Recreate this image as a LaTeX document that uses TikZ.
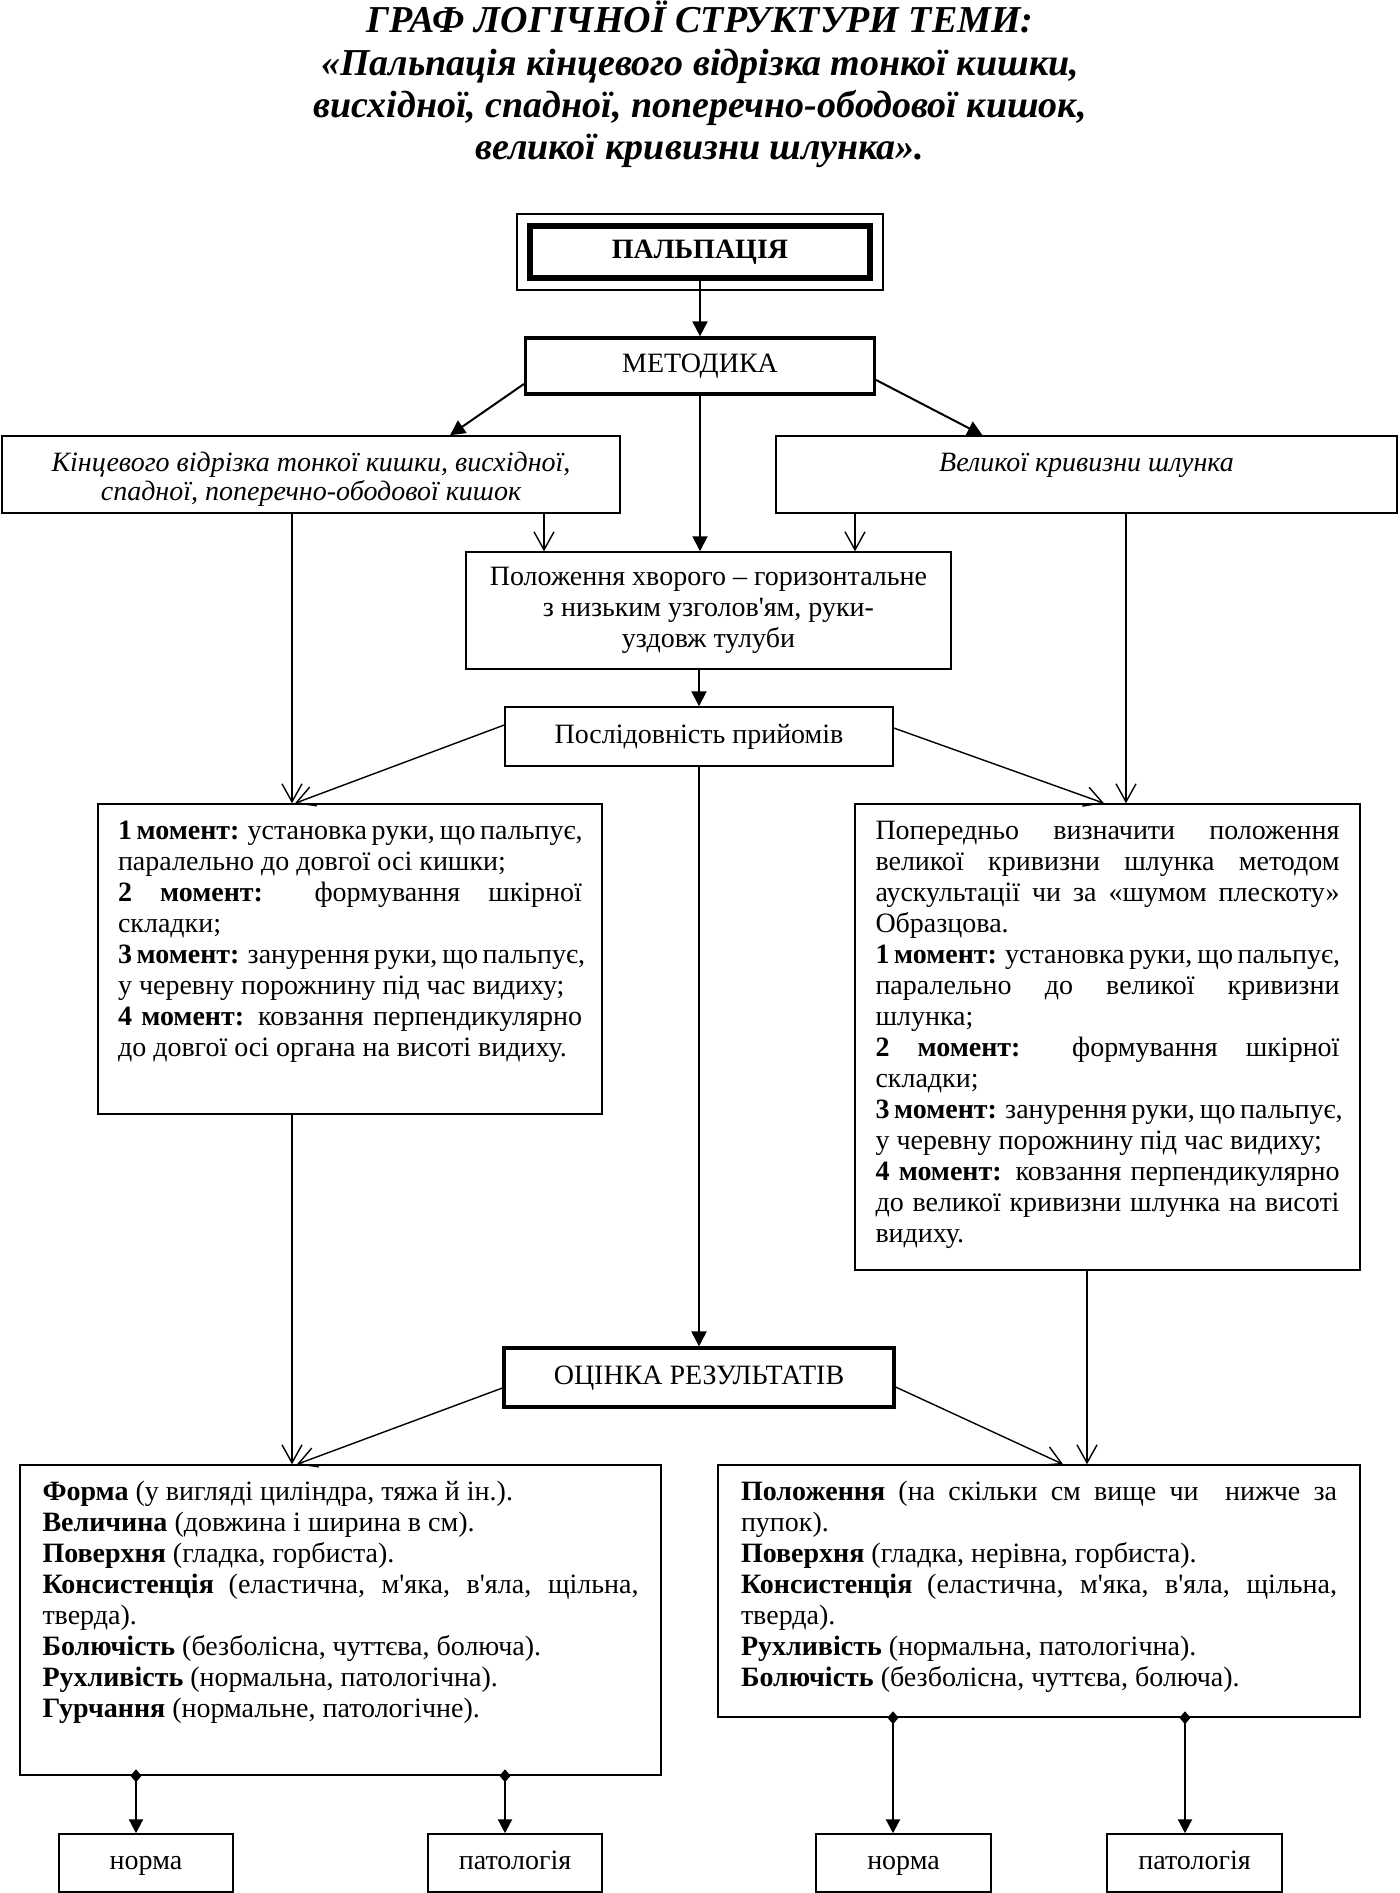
\documentclass[tikz,border=0pt]{standalone}
\usepackage{fontspec}
\setmainfont{Liberation Serif}
\usetikzlibrary{arrows.meta}
\newcommand\apos{\textquotesingle}
\newcommand\J[1]{\makebox[\linewidth][s]{#1}\par}
\newcommand\fs{\rule{0pt}{17.5pt}}
\begin{document}
\begin{tikzpicture}[x=0.5pt,y=-0.5pt,
  title/.style={font=\fontsize{19}{22}\selectfont\bfseries\itshape, inner sep=0pt},
  box/.style={draw, line width=0.75pt, inner sep=0pt, font=\fontsize{14}{15.5}\selectfont},
  onebox/.style={box, text height=10pt, text depth=3.5pt},
  thickbox/.style={onebox, line width=1.6pt},
  fa/.style={line width=1pt, -{Triangle[length=7.5pt,width=7.5pt]}},
  oa/.style={line width=0.7pt, -{Straight Barb[length=9pt,width=10pt,line width=0.7pt]}},
  da/.style={line width=1.1pt, {Diamond[length=6.5pt,width=5.5pt]}-{Triangle[length=7pt,width=7pt]}},
]
\useasboundingbox (0,0) rectangle (1399,1893);

% title
\node[title, anchor=base] (t1) at (700,33) {ГРАФ ЛОГІЧНОЇ СТРУКТУРИ ТЕМИ:};
\node[title, anchor=base] (t2) at (700,76) {«Пальпація кінцевого відрізка тонкої кишки,};
\node[title, anchor=base] (t3) at (700,118) {висхідної, спадної, поперечно-ободової кишок,};
\node[title, anchor=base] (t4) at (700,160) {великої кривизни шлунка».};

% top
\node[draw, line width=3pt, minimum width=170pt, minimum height=26pt, inner sep=0pt,
  text height=10pt, text depth=3.5pt,
  font=\fontsize{14}{15.5}\selectfont\bfseries] (palp) at (700,252) {ПАЛЬПАЦІЯ};
\draw[line width=0.6pt] ([shift={(-5pt,4.5pt)}]palp.north west) rectangle ([shift={(5pt,-4.5pt)}]palp.south east);

\node[thickbox, minimum width=174.5pt, minimum height=28pt] (metod) at (700,366) {МЕТОДИКА};

\node[box, minimum width=309pt, minimum height=38.5pt] (li) at (311,474.5)
  {\parbox[c][38.5pt][t]{300pt}{\centering\itshape\baselineskip=14.5pt\rule{0pt}{18pt}Кінцевого відрізка тонкої кишки, висхідної,\\спадної, поперечно-ободової кишок}};
\node[box, minimum width=310.5pt, minimum height=38.5pt] (ri) at (1086.5,474.5)
  {\parbox[c][38.5pt][t]{300pt}{\centering\itshape\rule{0pt}{18pt}Великої кривизни шлунка}};

\node[box, minimum width=242.5pt, minimum height=58.5pt, align=center] (pol) at (708.5,610.5)
  {Положення хворого – горизонтальне\\з низьким узголов\apos ям, руки-\\уздовж тулуби};

\node[onebox, minimum width=194pt, minimum height=29.5pt] (posl) at (699,736.5) {Послідовність прийомів};

\node[box, minimum width=252pt, minimum height=155pt] (lm) at (350,959)
  {\parbox[c][155pt][t]{232pt}{%
  \J{\fs\textbf{1 момент:} установка руки, що пальпує,}
  паралельно до довгої осі кишки;\par
  \J{\textbf{2 момент:} формування шкірної}
  складки;\par
  \J{\textbf{3 момент:} занурення руки, що пальпує,}
  у черевну порожнину під час видиху;\par
  \J{\textbf{4 момент:} ковзання перпендикулярно}
  до довгої осі органа на висоті видиху.}};

\node[box, minimum width=252.5pt, minimum height=233pt] (rm) at (1107.5,1037)
  {\parbox[c][233pt][t]{232pt}{%
  \J{\fs Попередньо визначити положення}
  \J{великої кривизни шлунка методом}
  \J{аускультації чи за «шумом плескоту»}
  Образцова.\par
  \J{\textbf{1 момент:} установка руки, що пальпує,}
  \J{паралельно до великої кривизни}
  шлунка;\par
  \J{\textbf{2 момент:} формування шкірної}
  складки;\par
  \J{\textbf{3 момент:} занурення руки, що пальпує,}
  у черевну порожнину під час видиху;\par
  \J{\textbf{4 момент:} ковзання перпендикулярно}
  \J{до великої кривизни шлунка на висоті}
  видиху.}};

\node[thickbox, minimum width=195pt, minimum height=29.5pt] (oc) at (699,1377.5) {ОЦІНКА РЕЗУЛЬТАТІВ};

\node[box, minimum width=320.5pt, minimum height=155pt] (lr) at (340.5,1620)
  {\parbox[c][155pt][t]{298pt}{%
  \fs\textbf{Форма} (у вигляді циліндра, тяжа й ін.).\par
  \textbf{Величина} (довжина і ширина в см).\par
  \textbf{Поверхня} (гладка, горбиста).\par
  \J{\textbf{Консистенція} (еластична, м\apos яка, в\apos яла, щільна,}
  тверда).\par
  \textbf{Болючість} (безболісна, чуттєва, болюча).\par
  \textbf{Рухливість} (нормальна, патологічна).\par
  \textbf{Гурчання} (нормальне, патологічне).}};

\node[box, minimum width=321pt, minimum height=126pt] (rr) at (1039,1591)
  {\parbox[c][126pt][t]{298pt}{%
  \J{\fs\textbf{Положення} (на скільки см вище чи \ нижче за}
  пупок).\par
  \textbf{Поверхня} (гладка, нерівна, горбиста).\par
  \J{\textbf{Консистенція} (еластична, м\apos яка, в\apos яла, щільна,}
  тверда).\par
  \textbf{Рухливість} (нормальна, патологічна).\par
  \textbf{Болючість} (безболісна, чуттєва, болюча).}};

\node[onebox, minimum width=87pt, minimum height=29pt] (n1) at (146,1863) {норма};
\node[onebox, minimum width=87pt, minimum height=29pt] (p1) at (515,1863) {патологія};
\node[onebox, minimum width=87.5pt, minimum height=29pt] (n2) at (903.5,1863) {норма};
\node[onebox, minimum width=87.5pt, minimum height=29pt] (p2) at (1194.5,1863) {патологія};

% coordinates for vertical connectors
\coordinate (liA) at ([xshift=116.5pt]li.south);
\coordinate (riA) at ([xshift=-115.75pt]ri.south);
\coordinate (liB) at ([xshift=-9.5pt]li.south);
\coordinate (riB) at ([xshift=19.75pt]ri.south);
\coordinate (lmB) at ([xshift=-29pt]lm.south);
\coordinate (rmB) at ([xshift=-10.25pt]rm.south);
\coordinate (d1) at ([xshift=-102.25pt,yshift=3.25pt]lr.south);
\coordinate (d2) at ([xshift=82.25pt,yshift=3.25pt]lr.south);
\coordinate (d3) at ([xshift=-73pt,yshift=3.25pt]rr.south);
\coordinate (d4) at ([xshift=73pt,yshift=3.25pt]rr.south);

% connectors
\draw[fa] (palp.south) -- (metod.north);
\draw[fa] ([yshift=-9pt]metod.west) -- ([xshift=69.5pt]li.north);
\draw[fa] ([yshift=-7pt]metod.east) -- ([xshift=-52pt]ri.north);
\draw[fa] (metod.south) -- (metod.south |- pol.north);
\draw[oa] (liA) -- (liA |- pol.north);
\draw[oa] (riA) -- (riA |- pol.north);
\draw[oa] (liB) -- (liB |- lm.north);
\draw[oa] (riB) -- (riB |- rm.north);
\draw[fa] (posl.north |- pol.south) -- (posl.north);
\draw[oa] ([yshift=5.75pt]posl.west) -- ([xshift=-27.5pt]lm.north);
\draw[oa] ([yshift=4.25pt]posl.east) -- ([xshift=-1.75pt]rm.north);
\draw[fa] (posl.south) -- (oc.north);
\draw[oa] (lmB) -- (lmB |- lr.north);
\draw[oa] (rmB) -- (rmB |- rr.north);
\draw[oa] ([yshift=-5.25pt]oc.west) -- ([xshift=-21.75pt]lr.north);
\draw[oa] ([yshift=-4.75pt]oc.east) -- ([xshift=12pt]rr.north);
\draw[da] (d1) -- (d1 |- n1.north);
\draw[da] (d2) -- (d2 |- p1.north);
\draw[da] (d3) -- (d3 |- n2.north);
\draw[da] (d4) -- (d4 |- p2.north);
\end{tikzpicture}
\end{document}
